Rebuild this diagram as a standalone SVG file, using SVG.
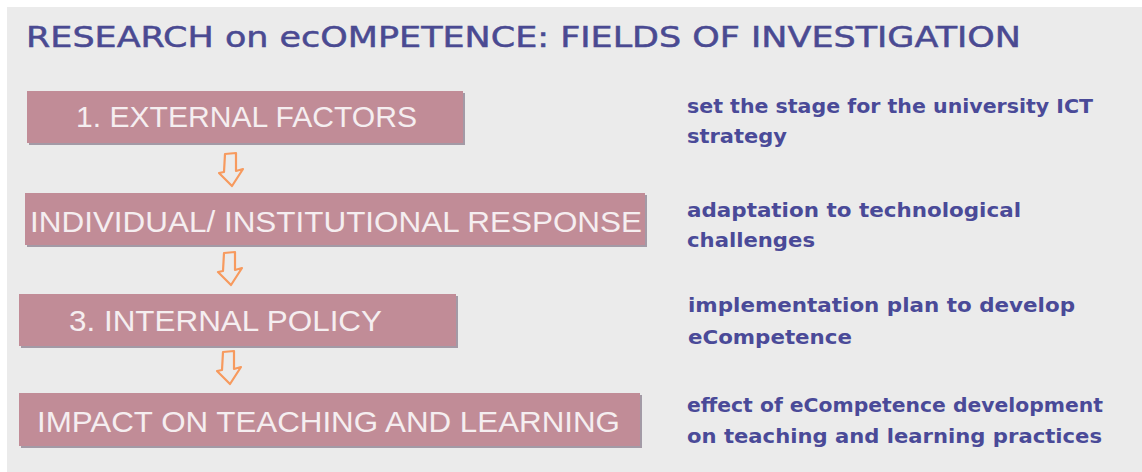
<svg xmlns="http://www.w3.org/2000/svg" width="1142" height="472" viewBox="0 0 1142 472">
  <style>
    .title { font-family: "DejaVu Sans", Verdana, sans-serif; font-size: 28px; fill: #4a4a92; stroke: #4a4a92; stroke-width: 0.5; }
    .shadow { fill: #a39aa6; }
    .box { fill: #c18c97; }
    .label { font-family: "Liberation Sans", Arial, sans-serif; font-size: 29px; fill: #f5eef0; }
    .desc { font-family: "DejaVu Sans", Verdana, sans-serif; font-weight: bold; font-size: 20px; fill: #4a4a98; }
    .flow { fill: #ebebeb; stroke: #f79a5e; stroke-width: 2.2; stroke-linejoin: round; }
  </style>
  <defs>
    <!-- hollow block arrow pointing down, slightly tilted -->
    <path id="down-arrow" d="M0,0 L11,-1 L11,17 L18,15 L7,32 L-6,19 L-1,18 Z"/>
  </defs>

  <!-- panel background -->
  <rect x="0" y="0" width="1142" height="472" fill="#ffffff"/>
  <rect x="7" y="7" width="1135" height="465" fill="#ebebeb"/>

  <text class="title" x="26" y="47" textLength="995" lengthAdjust="spacingAndGlyphs">RESEARCH on ecOMPETENCE: FIELDS OF INVESTIGATION</text>

  <g id="connectors">
    <use href="#down-arrow" class="flow" transform="translate(225,154)"/>
    <use href="#down-arrow" class="flow" transform="translate(224,253)"/>
    <use href="#down-arrow" class="flow" transform="translate(223,352)"/>
  </g>

  <g id="external-factors">
    <rect class="shadow" x="29" y="93" width="436" height="52"/>
    <rect class="box" x="27" y="91" width="436" height="52"/>
    <text class="label" x="76" y="127" textLength="341" lengthAdjust="spacingAndGlyphs">1. EXTERNAL FACTORS</text>
  </g>

  <g id="institutional-response">
    <rect class="shadow" x="27" y="195" width="620" height="52"/>
    <rect class="box" x="25" y="193" width="620" height="52"/>
    <text class="label" x="30" y="232" textLength="612" lengthAdjust="spacingAndGlyphs">INDIVIDUAL/ INSTITUTIONAL RESPONSE</text>
  </g>

  <g id="internal-policy">
    <rect class="shadow" x="21" y="296" width="437" height="52"/>
    <rect class="box" x="19" y="294" width="437" height="52"/>
    <text class="label" x="69" y="331" textLength="313" lengthAdjust="spacingAndGlyphs">3. INTERNAL POLICY</text>
  </g>

  <g id="teaching-impact">
    <rect class="shadow" x="21" y="395" width="621" height="53"/>
    <rect class="box" x="19" y="393" width="621" height="53"/>
    <text class="label" x="37" y="432" textLength="583" lengthAdjust="spacingAndGlyphs">IMPACT ON TEACHING AND LEARNING</text>
  </g>

  <g id="descriptions">
    <text class="desc" x="687" y="113" textLength="406" lengthAdjust="spacingAndGlyphs">set the stage for the university ICT</text>
    <text class="desc" x="687" y="143" textLength="100" lengthAdjust="spacingAndGlyphs">strategy</text>
    <text class="desc" x="687" y="217" textLength="334" lengthAdjust="spacingAndGlyphs">adaptation to technological</text>
    <text class="desc" x="687" y="247" textLength="128" lengthAdjust="spacingAndGlyphs">challenges</text>
    <text class="desc" x="688" y="312" textLength="387" lengthAdjust="spacingAndGlyphs">implementation plan to develop</text>
    <text class="desc" x="688" y="344" textLength="164" lengthAdjust="spacingAndGlyphs">eCompetence</text>
    <text class="desc" x="687" y="412" textLength="416" lengthAdjust="spacingAndGlyphs">effect of eCompetence development</text>
    <text class="desc" x="687" y="443" textLength="415" lengthAdjust="spacingAndGlyphs">on teaching and learning practices</text>
  </g>
</svg>
